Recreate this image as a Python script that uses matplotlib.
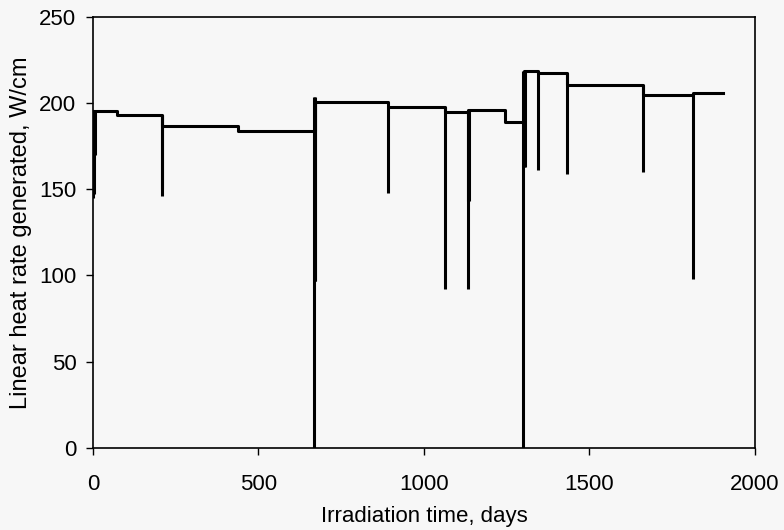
import matplotlib.pyplot as plt
import numpy as np

# step profile of the linear heat rate (day where each level starts)
step_days = [0, 73, 207, 437, 671, 892, 1063, 1134, 1245, 1302, 1343, 1433, 1663, 1812]
step_levels = [195.5, 193, 187, 184, 200.5, 197.5, 195, 196, 189, 218.5, 217.5, 210.5, 205, 206]
end_day = 1904

# short outages / power dips drawn as vertical drops
spike_days = [0, 2, 5, 207, 209, 669, 671, 672, 892, 1063, 1132, 1134, 1136,
              1299, 1302, 1304, 1343, 1433, 1663, 1812]
spike_lows = [145, 147, 170, 146, 150, 0, 97, 97, 148, 92, 92, 143, 143,
              0, 163, 163, 161, 159, 160, 98]
spike_highs = [195.5, 195.5, 195.5, 193, 193, 203.5, 203.5, 200.5, 198, 197.5, 195, 196, 196,
               218.5, 218.5, 218.5, 218, 217.5, 210.5, 206]

plt.rcParams['font.family'] = ['Liberation Sans', 'DejaVu Sans']

fig = plt.figure(figsize=(7.84, 5.30), dpi=100, facecolor='#f7f7f7')
ax = fig.add_axes([0.1186, 0.155, 0.8444, 0.813])
ax.set_facecolor('#f7f7f7')

x = step_days + [end_day]
y = step_levels + [step_levels[-1]]
ax.step(x, y, where='post', color='black', lw=2.2)
ax.vlines(spike_days, spike_lows, spike_highs, color='black', lw=2.2)

ax.set_xlim(0, 2000)
ax.set_ylim(0, 250)
ax.set_xticks([0, 500, 1000, 1500, 2000])
ax.set_yticks([0, 50, 100, 150, 200, 250])
ax.tick_params(direction='out', length=5, width=1, labelsize=16, pad=7)
ax.tick_params(axis='x', pad=14)
for s in ax.spines.values():
    s.set_linewidth(1.2)

ax.set_xlabel('Irradiation time, days', fontsize=16, labelpad=8)
ax.set_ylabel('Linear heat rate generated, W/cm', fontsize=17, labelpad=5)

fig.savefig('out.png', dpi=100, facecolor=fig.get_facecolor())
